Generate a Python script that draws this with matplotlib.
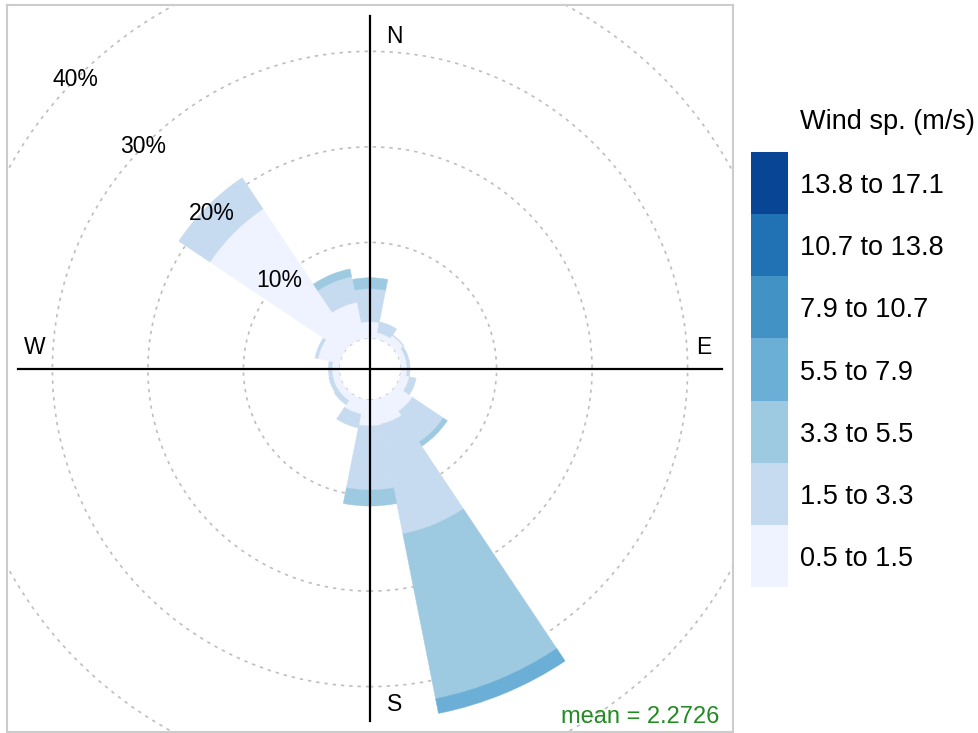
import numpy as np
import matplotlib
matplotlib.use("Agg")
import matplotlib.pyplot as plt
from matplotlib.patches import Wedge, Circle, Rectangle

plt.rcParams['font.family'] = ['Liberation Sans', 'DejaVu Sans']

# wind directions (degrees, clockwise from north)
directions = [0, 22.5, 45, 67.5, 90, 112.5, 135, 157.5,
              180, 202.5, 225, 247.5, 270, 292.5, 315, 337.5]

# percentage of time in each speed band, per direction
band_05_15 = [1.70, 0.63, 0.94, 0.63, 0.63, 0.94, 2.09, 2.62,
              2.72, 1.57, 0.73, 0.73, 0.73, 2.30, 16.90, 3.87]
band_15_33 = [3.45, 1.15, 0.10, 0.31, 0.31, 0.74, 3.88, 11.73,
              6.70, 1.47, 0.52, 0.42, 0.37, 0.32, 3.93, 2.73]
band_33_55 = [1.15, 0.0, 0.0, 0.0, 0.0, 0.0, 0.52, 17.59,
              1.68, 0.0, 0.0, 0.0, 0.0, 0.0, 0.0, 0.83]
band_55_79 = [0.0, 0.0, 0.0, 0.0, 0.0, 0.0, 0.0, 1.57,
              0.0, 0.0, 0.0, 0.0, 0.0, 0.0, 0.0, 0.0]

bands = [band_05_15, band_15_33, band_33_55, band_55_79]

legend_labels = ["0.5 to 1.5", "1.5 to 3.3", "3.3 to 5.5", "5.5 to 7.9",
                 "7.9 to 10.7", "10.7 to 13.8", "13.8 to 17.1"]
colors = ["#EFF3FF", "#C6DBEF", "#9ECAE1", "#6BAED6",
          "#4292C6", "#2171B5", "#084594"]

grid_levels = [10, 20, 30, 40]
mean_speed = 2.2726

offset = 3.25   # hollow centre, in % units
half = 11.25    # half of the sector width

fig = plt.figure(figsize=(9.79, 7.33), dpi=100)
ax = fig.add_axes([7 / 979, 1 / 733, 726 / 979, 727 / 733])
ax.set_xlim(-38, 38)
ax.set_ylim(-38, 38.1)
ax.set_xticks([])
ax.set_yticks([])
for sp in ax.spines.values():
    sp.set_color('#CCCCCC')
    sp.set_linewidth(1.5)

# grid circles (behind the wedges)
for lev in [0] + grid_levels:
    ax.add_patch(Circle((0, 0), offset + lev, fill=False, ec='#BEBEBE',
                        lw=1.2, ls=(0, (2, 3)), zorder=1))

# stacked wedges
for i, d in enumerate(directions):
    start = offset
    for b, vals in enumerate(bands):
        v = vals[i]
        if v <= 0:
            continue
        th1 = 90 - d - half
        th2 = 90 - d + half
        ax.add_patch(Wedge((0, 0), start + v, th1, th2, width=v,
                           fc=colors[b], ec=colors[b], lw=0.3, zorder=2))
        start += v

# axis cross
ax.plot([0, 0], [-36.9, 36.9], color='black', lw=1.6, zorder=3)
ax.plot([-36.9, 36.9], [0, 0], color='black', lw=1.6, zorder=3)

# percentage labels
ang = np.deg2rad(135.5)
for lev in grid_levels:
    r = offset + lev
    ax.text(r * np.cos(ang), r * np.sin(ang), f"{lev}%", fontsize=16.5,
            ha='center', va='center', zorder=4)

ax.text(2.6, 34.8, "N", fontsize=16.5, ha='center', va='center')
ax.text(2.6, -35.1, "S", fontsize=16.5, ha='center', va='center')
ax.text(-35.1, 2.3, "W", fontsize=16.5, ha='center', va='center')
ax.text(34.9, 2.3, "E", fontsize=16.5, ha='center', va='center')

ax.text(36.6, -36.4, f"mean = {mean_speed}", fontsize=17,
        color='forestgreen', ha='right', va='center')

# legend colour key
lax = fig.add_axes([751 / 979, (733 - 587) / 733, 37 / 979, 435 / 733])
lax.set_xlim(0, 1)
lax.set_ylim(0, len(colors))
lax.axis('off')
for i, c in enumerate(colors):
    lax.add_patch(Rectangle((0, i), 1, 1, fc=c, ec='none'))
    lax.text(1.33, i + 0.45, legend_labels[i], fontsize=19.5,
             ha='left', va='center', clip_on=False)
lax.text(1.33, len(colors) + 0.48, "Wind sp. (m/s)", fontsize=19.5,
         ha='left', va='center', clip_on=False)

fig.savefig("out.png", dpi=100)
